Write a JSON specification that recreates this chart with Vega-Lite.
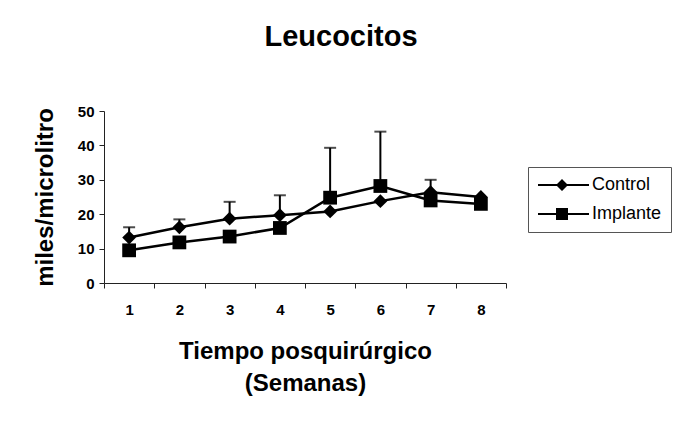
{
  "$schema": "https://vega.github.io/schema/vega-lite/v6.json",
  "width": 402,
  "height": 172,
  "autosize": {"type": "none"},
  "padding": {"left": 104, "top": 111, "right": 177, "bottom": 146},
  "background": "white",
  "title": {
    "text": "Leucocitos",
    "font": "Liberation Sans",
    "fontSize": 29,
    "fontWeight": "bold",
    "color": "black",
    "anchor": "middle",
    "dx": 36,
    "offset": 52
  },
  "config": {
    "view": {"stroke": null},
    "font": "Liberation Sans",
    "axis": {
      "domainColor": "#222",
      "tickColor": "#222",
      "grid": false,
      "labelFont": "Liberation Sans",
      "labelFontWeight": "bold",
      "labelFontSize": 15,
      "labelColor": "black",
      "titleFont": "Liberation Sans",
      "titleFontWeight": "bold",
      "titleFontSize": 24,
      "titleColor": "black"
    }
  },
  "data": {
    "values": [
      {"semana": "1", "grupo": "Control", "valor": 13.2, "sup": 16.2},
      {"semana": "2", "grupo": "Control", "valor": 16.2, "sup": 18.5},
      {"semana": "3", "grupo": "Control", "valor": 18.7, "sup": 23.6},
      {"semana": "4", "grupo": "Control", "valor": 19.7, "sup": 25.5},
      {"semana": "5", "grupo": "Control", "valor": 20.8, "sup": null},
      {"semana": "6", "grupo": "Control", "valor": 23.8, "sup": null},
      {"semana": "7", "grupo": "Control", "valor": 26.4, "sup": 30.0},
      {"semana": "8", "grupo": "Control", "valor": 25.0, "sup": null},
      {"semana": "1", "grupo": "Implante", "valor": 9.5, "sup": null},
      {"semana": "2", "grupo": "Implante", "valor": 11.8, "sup": null},
      {"semana": "3", "grupo": "Implante", "valor": 13.5, "sup": null},
      {"semana": "4", "grupo": "Implante", "valor": 16.0, "sup": null},
      {"semana": "5", "grupo": "Implante", "valor": 24.8, "sup": 39.3},
      {"semana": "6", "grupo": "Implante", "valor": 28.2, "sup": 44.0},
      {"semana": "7", "grupo": "Implante", "valor": 24.0, "sup": null},
      {"semana": "8", "grupo": "Implante", "valor": 23.0, "sup": null}
    ]
  },
  "encoding": {
    "x": {
      "field": "semana",
      "type": "ordinal",
      "scale": {"paddingInner": 0, "paddingOuter": 0},
      "axis": {
        "labelAngle": 0,
        "tickBand": "extent",
        "tickSize": 5,
        "labelPadding": 14,
        "title": ["Tiempo posquirúrgico", "(Semanas)"],
        "titlePadding": 22,
        "titleLineHeight": 32
      }
    },
    "y": {
      "field": "valor",
      "type": "quantitative",
      "scale": {"domain": [0, 50]},
      "axis": {
        "values": [0, 10, 20, 30, 40, 50],
        "tickSize": 5,
        "labelPadding": 5,
        "title": "miles/microlitro",
        "titlePadding": 20
      }
    }
  },
  "layer": [
    {
      "transform": [{"filter": "datum.sup != null"}],
      "mark": {"type": "rule", "color": "black", "strokeWidth": 2},
      "encoding": {"y2": {"field": "sup"}}
    },
    {
      "transform": [{"filter": "datum.sup != null"}],
      "mark": {"type": "tick", "color": "black", "thickness": 2, "size": 12},
      "encoding": {"y": {"field": "sup", "type": "quantitative"}}
    },
    {
      "mark": {"type": "line", "color": "black", "strokeWidth": 2.5},
      "encoding": {"detail": {"field": "grupo"}}
    },
    {
      "mark": {"type": "point", "filled": true, "color": "black", "opacity": 1, "size": 190},
      "encoding": {
        "shape": {
          "field": "grupo",
          "type": "nominal",
          "scale": {"domain": ["Control", "Implante"], "range": ["diamond", "square"]},
          "legend": null
        }
      }
    },
    {
      "mark": {"type": "point", "filled": true, "color": "black", "opacity": 0, "size": 100},
      "encoding": {
        "shape": {
          "field": "grupo",
          "type": "nominal",
          "scale": {
            "domain": ["Control", "Implante"],
            "range": [
              "M-1.6,-0.22L8.6,-0.22L8.6,0.22L-1.6,0.22ZM3.2,-1.2L4.4,0L3.2,1.2L2.0,0Z",
              "M-1.6,-0.22L8.6,-0.22L8.6,0.22L-1.6,0.22ZM2.0,-1.2L4.4,-1.2L4.4,1.2L2.0,1.2Z"
            ]
          },
          "legend": {
            "title": null,
            "orient": "none",
            "legendX": 424,
            "legendY": 56,
            "symbolSize": 100,
            "symbolFillColor": "black",
            "symbolStrokeColor": "black",
            "symbolStrokeWidth": 0,
            "symbolOpacity": 1,
            "labelOffset": 37,
            "labelFont": "Liberation Sans",
            "labelFontSize": 18,
            "labelColor": "black",
            "rowPadding": 11,
            "padding": 9,
            "strokeColor": "#555",
            "fillColor": "white"
          }
        }
      }
    }
  ],
  "resolve": {"scale": {"shape": "independent"}, "legend": {"shape": "independent"}}
}
